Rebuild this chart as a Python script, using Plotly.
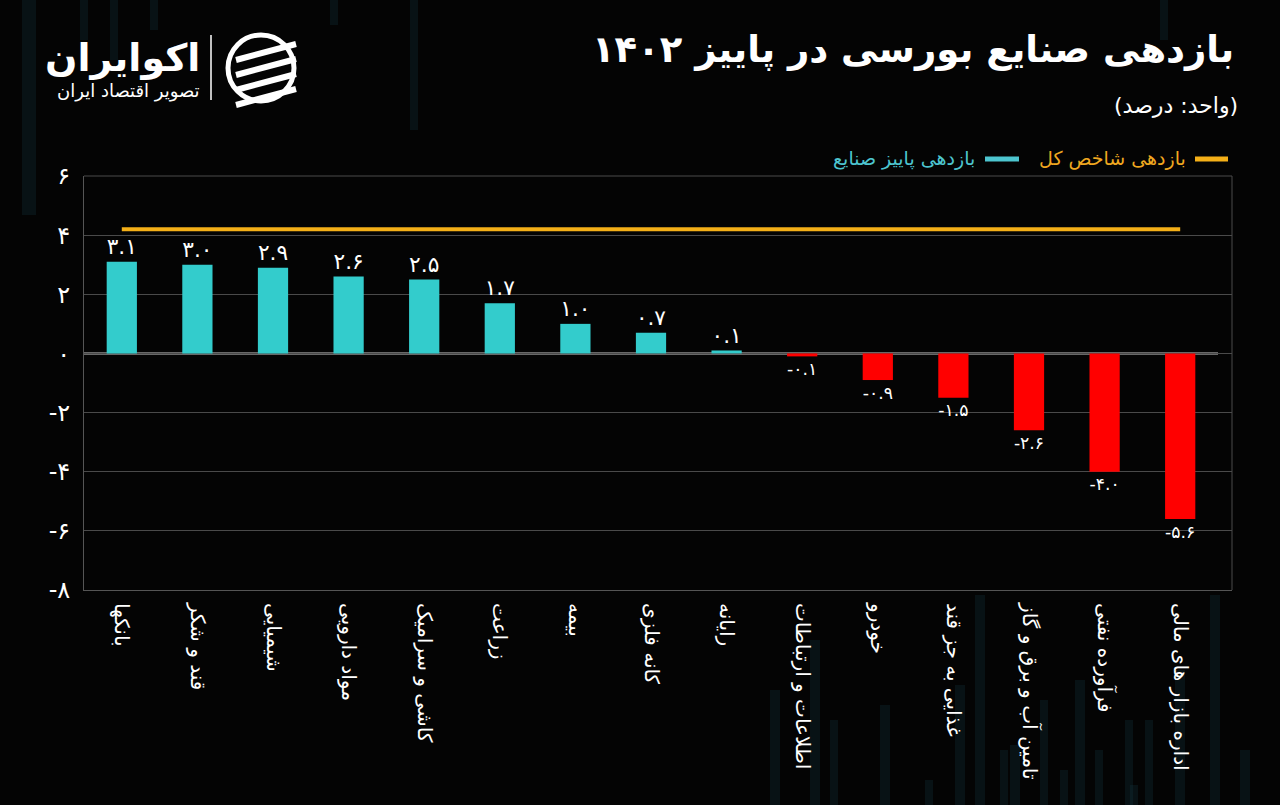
import plotly.graph_objects as go

# ---------------- data ----------------
categories = ["بانکها", "قند و شکر", "شیمیایی", "مواد دارویی", "کاشی و سرامیک",
              "زراعت", "بیمه", "کانه فلزی", "رایانه", "اطلاعات و ارتباطات",
              "خودرو", "غذایی به جز قند", "تامین آب و برق و گاز", "فرآورده نفتی",
              "اداره بازار های مالی"]
values = [3.1, 3.0, 2.9, 2.6, 2.5, 1.7, 1.0, 0.7, 0.1, -0.1, -0.9, -1.5, -2.6, -4.0, -5.6]
index_return = 4.2
y_ticks = [-8, -6, -4, -2, 0, 2, 4, 6]

title_text = "بازدهی صنایع بورسی در پاییز ۱۴۰۲"
unit_text = "(واحد: درصد)"
legend_index = "بازدهی شاخص کل"
legend_sector = "بازدهی پاییز صنایع"

# ---------------- helpers ----------------
FA = str.maketrans("0123456789", "۰۱۲۳۴۵۶۷۸۹")
def fa(s):
    return str(s).translate(FA)

W, H = 1280, 805
ML, MR, MT, MB = 84, 48, 176, 215
PW, PH = W - ML - MR, H - MT - MB
def px(x):
    return (x - ML) / PW
def py(y):
    return (H - MB - y) / PH

CYAN = "#33CCCC"
RED = "#FF0000"
ORANGE = "#F5B018"
FONT = "DejaVu Sans"

bar_colors = [CYAN if v >= 0 else RED for v in values]
bar_text = [fa(f"{v:.1f}") for v in values]

fig = go.Figure()
fig.add_trace(go.Bar(
    x=categories, y=values, marker=dict(color=bar_colors, line=dict(width=0)),
    text=bar_text, textposition="outside", cliponaxis=False,
    textfont=dict(color="white", size=22, family=FONT), showlegend=False,
))
fig.add_trace(go.Scatter(
    x=categories, y=[index_return] * len(categories), mode="lines",
    line=dict(color=ORANGE, width=4), showlegend=False, hoverinfo="skip",
))

shapes = []
# faint background candles
candles = [(22, 0, 36, 215), (80, 0, 88, 40), (110, 0, 118, 60), (150, 0, 158, 30),
           (330, 0, 338, 25), (410, 0, 418, 130), (1160, 0, 1168, 40),
           (770, 690, 780, 805), (810, 640, 820, 805), (830, 720, 838, 805),
           (880, 705, 890, 805), (925, 780, 933, 805), (955, 685, 965, 805),
           (975, 595, 985, 805), (1000, 750, 1008, 805), (1010, 745, 1020, 805),
           (1040, 700, 1048, 805), (1060, 770, 1068, 805), (1075, 680, 1085, 805),
           (1095, 750, 1103, 805), (1125, 720, 1133, 805), (1130, 785, 1138, 805),
           (1145, 720, 1153, 805), (1175, 670, 1185, 805), (1210, 595, 1220, 805),
           (1240, 750, 1250, 805)]
for (x0, y0, x1, y1) in candles:
    shapes.append(dict(type="rect", xref="paper", yref="paper", x0=px(x0), x1=px(x1),
                       y0=py(y1), y1=py(y0), fillcolor="rgba(20,60,70,0.25)",
                       line=dict(width=0), layer="below"))
# zero line
shapes.append(dict(type="line", xref="x", yref="y", x0=-0.5, x1=14.5, y0=0, y1=0,
                   line=dict(color="#CCCCCC", width=2), layer="below"))
# legend symbols
shapes.append(dict(type="line", xref="paper", yref="paper", x0=px(1195), x1=px(1228),
                   y0=py(159), y1=py(159), line=dict(color=ORANGE, width=5)))
shapes.append(dict(type="line", xref="paper", yref="paper", x0=px(985), x1=px(1019),
                   y0=py(159), y1=py(159), line=dict(color="#4DC5CF", width=5)))
# logo divider
shapes.append(dict(type="line", xref="paper", yref="paper", x0=px(211), x1=px(211),
                   y0=py(35), y1=py(100), line=dict(color="white", width=1.5)))
# logo icon: ring + stripes
shapes.append(dict(type="circle", xref="paper", yref="paper", x0=px(228), x1=px(294),
                   y0=py(101), y1=py(35), line=dict(color="white", width=5)))
for k in range(4):
    yy = 44 + k * 15
    shapes.append(dict(type="line", xref="paper", yref="paper",
                       x0=px(236), x1=px(296), y0=py(yy + 16), y1=py(yy),
                       line=dict(color="white", width=6)))
# plot frame top/right
shapes.append(dict(type="line", xref="paper", yref="paper", x0=0, x1=1, y0=1, y1=1,
                   line=dict(color="#4A4A4A", width=1)))
shapes.append(dict(type="line", xref="paper", yref="paper", x0=1, x1=1, y0=0, y1=1,
                   line=dict(color="#4A4A4A", width=1)))

annotations = [
    dict(text=title_text, x=px(1236), y=py(50), xref="paper", yref="paper",
         xanchor="right", yanchor="middle", showarrow=False,
         font=dict(family=FONT, size=37, color="white", weight="bold")),
    dict(text=unit_text, x=px(1240), y=py(106), xref="paper", yref="paper",
         xanchor="right", yanchor="middle", showarrow=False,
         font=dict(family=FONT, size=22, color="white")),
    dict(text=legend_index, x=px(1188), y=py(158), xref="paper", yref="paper",
         xanchor="right", yanchor="middle", showarrow=False,
         font=dict(family=FONT, size=19, color="#F0A820")),
    dict(text=legend_sector, x=px(977), y=py(158), xref="paper", yref="paper",
         xanchor="right", yanchor="middle", showarrow=False,
         font=dict(family=FONT, size=19, color="#4DC5CF")),
    dict(text="اکوایران", x=px(202), y=py(58), xref="paper", yref="paper",
         xanchor="right", yanchor="middle", showarrow=False,
         font=dict(family=FONT, size=38, color="white", weight="bold")),
    dict(text="تصویر اقتصاد ایران", x=px(202), y=py(91), xref="paper", yref="paper",
         xanchor="right", yanchor="middle", showarrow=False,
         font=dict(family=FONT, size=18, color="white")),
]

fig.update_layout(
    width=W, height=H,
    margin=dict(l=ML, r=MR, t=MT, b=MB, pad=0),
    paper_bgcolor="#040404", plot_bgcolor="rgba(0,0,0,0)",
    bargap=0.6, showlegend=False,
    shapes=shapes, annotations=annotations,
    font=dict(family=FONT, color="white"),
)
fig.update_xaxes(
    range=[-0.5, 14.5 + 14 / 75.6], tickangle=90, showgrid=False,
    tickfont=dict(size=20, color="white", family=FONT),
    showline=True, linecolor="#555555", linewidth=1, mirror=False,
    ticks="", ticklabelstandoff=8,
)
fig.update_yaxes(
    range=[-8, 6], tickvals=y_ticks, ticktext=[fa(t) for t in y_ticks],
    tickfont=dict(size=24, color="white", family=FONT),
    showgrid=True, gridcolor="#4A4A4A", gridwidth=1, zeroline=False,
    showline=True, linecolor="#555555", linewidth=1, ticks="", ticklabelstandoff=8,
)

fig.write_html("out.html")
